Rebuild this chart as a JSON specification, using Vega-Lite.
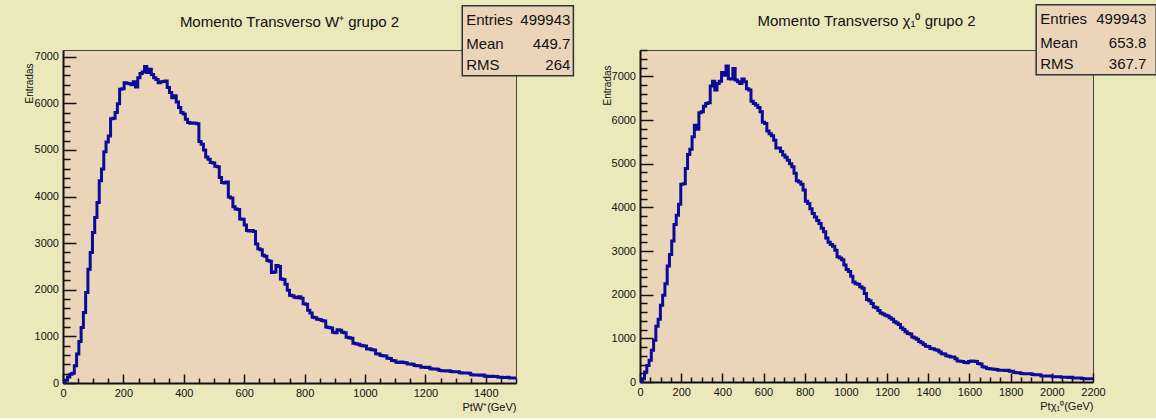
{
  "$schema": "https://vega.github.io/schema/vega-lite/v6.json",
  "background": "#ebe8bb",
  "padding": {"left": 23, "top": 3, "right": 5, "bottom": 5},
  "spacing": 124,
  "bounds": "flush",
  "config": {
    "font": "Liberation Sans, Arial, sans-serif",
    "view": {"fill": "#ebd5b8", "stroke": "#444444", "strokeWidth": 1},
    "axis": {"labelFontSize": 11, "labelColor": "#111111", "domainColor": "#111111", "domainWidth": 2, "tickColor": "#111111", "tickWidth": 1.5, "grid": false, "labelFlush": false, "labelOverlap": false, "titleFontWeight": "normal", "titleFontSize": 11, "titleColor": "#111111"},
    "title": {"fontSize": 15, "fontWeight": "normal", "color": "#111111", "anchor": "middle"}
  },
  "datasets": {
    "w": [
      {"pt":0,"n":10},{"pt":7.5,"n":60},{"pt":15,"n":130},{"pt":22.5,"n":190},{"pt":30,"n":210},{"pt":37.5,"n":370},{"pt":45,"n":620},{"pt":52.5,"n":890},{"pt":60,"n":1190},{"pt":67.5,"n":1510},
      {"pt":75,"n":1940},{"pt":82.5,"n":2440},{"pt":90,"n":2800},{"pt":97.5,"n":3230},{"pt":105,"n":3550},{"pt":112.5,"n":3870},{"pt":120,"n":4340},{"pt":127.5,"n":4590},{"pt":135,"n":4960},{"pt":142.5,"n":5170},
      {"pt":150,"n":5300},{"pt":157.5,"n":5670},{"pt":165,"n":5680},{"pt":172.5,"n":5800},{"pt":180,"n":5990},{"pt":187.5,"n":6300},{"pt":195,"n":6310},{"pt":202.5,"n":6440},{"pt":210,"n":6430},{"pt":217.5,"n":6420},
      {"pt":225,"n":6400},{"pt":232.5,"n":6460},{"pt":240,"n":6350},{"pt":247.5,"n":6550},{"pt":255,"n":6640},{"pt":262.5,"n":6670},{"pt":270,"n":6790},{"pt":277.5,"n":6660},{"pt":285,"n":6730},{"pt":292.5,"n":6620},
      {"pt":300,"n":6550},{"pt":307.5,"n":6510},{"pt":315,"n":6440},{"pt":322.5,"n":6460},{"pt":330,"n":6470},{"pt":337.5,"n":6480},{"pt":345,"n":6340},{"pt":352.5,"n":6230},{"pt":360,"n":6120},{"pt":367.5,"n":6160},
      {"pt":375,"n":6030},{"pt":382.5,"n":5910},{"pt":390,"n":5800},{"pt":397.5,"n":5770},{"pt":405,"n":5660},{"pt":412.5,"n":5590},{"pt":420,"n":5570},{"pt":427.5,"n":5575},{"pt":435,"n":5570},{"pt":442.5,"n":5560},
      {"pt":450,"n":5180},{"pt":457.5,"n":5120},{"pt":465,"n":5000},{"pt":472.5,"n":4850},{"pt":480,"n":4800},{"pt":487.5,"n":4730},{"pt":495,"n":4720},{"pt":502.5,"n":4650},{"pt":510,"n":4640},{"pt":517.5,"n":4410},
      {"pt":525,"n":4300},{"pt":532.5,"n":4290},{"pt":540,"n":4310},{"pt":547.5,"n":3990},{"pt":555,"n":3970},{"pt":562.5,"n":3780},{"pt":570,"n":3730},{"pt":577.5,"n":3720},{"pt":585,"n":3520},{"pt":592.5,"n":3510},
      {"pt":600,"n":3390},{"pt":607.5,"n":3270},{"pt":615,"n":3260},{"pt":622.5,"n":3270},{"pt":630,"n":3250},{"pt":637.5,"n":2980},{"pt":645,"n":2880},{"pt":652.5,"n":2860},{"pt":660,"n":2740},{"pt":667.5,"n":2720},
      {"pt":675,"n":2630},{"pt":682.5,"n":2610},{"pt":690,"n":2370},{"pt":697.5,"n":2380},{"pt":705,"n":2520},{"pt":712.5,"n":2500},{"pt":720,"n":2230},{"pt":727.5,"n":2220},{"pt":735,"n":2120},{"pt":742.5,"n":1990},
      {"pt":750,"n":1880},{"pt":757.5,"n":1870},{"pt":765,"n":1840},{"pt":772.5,"n":1830},{"pt":780,"n":1850},{"pt":787.5,"n":1820},{"pt":795,"n":1700},{"pt":802.5,"n":1690},{"pt":810,"n":1560},{"pt":817.5,"n":1500},
      {"pt":825,"n":1410},{"pt":832.5,"n":1400},{"pt":840,"n":1370},{"pt":847.5,"n":1360},{"pt":855,"n":1340},{"pt":862.5,"n":1330},{"pt":870,"n":1200},{"pt":877.5,"n":1190},{"pt":885,"n":1180},{"pt":892.5,"n":1090},
      {"pt":900,"n":1080},{"pt":907.5,"n":1140},{"pt":915,"n":1130},{"pt":922.5,"n":1090},{"pt":930,"n":1080},{"pt":937.5,"n":980},{"pt":945,"n":970},{"pt":952.5,"n":960},{"pt":960,"n":850},{"pt":967.5,"n":840},
      {"pt":975,"n":830},{"pt":982.5,"n":810},{"pt":990,"n":800},{"pt":997.5,"n":795},{"pt":1005,"n":730},{"pt":1012.5,"n":735},{"pt":1020,"n":715},{"pt":1027.5,"n":710},{"pt":1035,"n":625},{"pt":1042.5,"n":620},
      {"pt":1050,"n":590},{"pt":1057.5,"n":585},{"pt":1065,"n":580},{"pt":1072.5,"n":530},{"pt":1080,"n":525},{"pt":1087.5,"n":480},{"pt":1095,"n":478},{"pt":1102.5,"n":445},{"pt":1110,"n":440},{"pt":1117.5,"n":450},
      {"pt":1125,"n":440},{"pt":1132.5,"n":435},{"pt":1140,"n":410},{"pt":1147.5,"n":405},{"pt":1155,"n":400},{"pt":1162.5,"n":375},{"pt":1170,"n":370},{"pt":1177.5,"n":372},{"pt":1185,"n":340},{"pt":1192.5,"n":336},
      {"pt":1200,"n":330},{"pt":1207.5,"n":338},{"pt":1215,"n":305},{"pt":1222.5,"n":300},{"pt":1230,"n":298},{"pt":1237.5,"n":295},{"pt":1245,"n":268},{"pt":1252.5,"n":265},{"pt":1260,"n":262},{"pt":1267.5,"n":260},
      {"pt":1275,"n":262},{"pt":1282.5,"n":245},{"pt":1290,"n":243},{"pt":1297.5,"n":240},{"pt":1305,"n":244},{"pt":1312.5,"n":218},{"pt":1320,"n":215},{"pt":1327.5,"n":212},{"pt":1335,"n":214},{"pt":1342.5,"n":210},
      {"pt":1350,"n":175},{"pt":1357.5,"n":172},{"pt":1365,"n":170},{"pt":1372.5,"n":174},{"pt":1380,"n":168},{"pt":1387.5,"n":170},{"pt":1395,"n":145},{"pt":1402.5,"n":143},{"pt":1410,"n":140},{"pt":1417.5,"n":145},
      {"pt":1425,"n":142},{"pt":1432.5,"n":140},{"pt":1440,"n":125},{"pt":1447.5,"n":122},{"pt":1455,"n":120},{"pt":1462.5,"n":118},{"pt":1470,"n":121},{"pt":1477.5,"n":108},{"pt":1485,"n":105},{"pt":1492.5,"n":107},
      {"pt":1500,"n":107}
    ],
    "chi": [
      {"pt":0,"n":20},{"pt":11,"n":76},{"pt":22,"n":230},{"pt":33,"n":380},{"pt":44,"n":500},{"pt":55,"n":730},{"pt":66,"n":955},{"pt":77,"n":1280},{"pt":88,"n":1440},{"pt":99,"n":1760},
      {"pt":110,"n":1990},{"pt":121,"n":2250},{"pt":132,"n":2660},{"pt":143,"n":2920},{"pt":154,"n":3230},{"pt":165,"n":3610},{"pt":176,"n":3820},{"pt":187,"n":4070},{"pt":198,"n":4530},{"pt":209,"n":4540},
      {"pt":220,"n":4890},{"pt":231,"n":5210},{"pt":242,"n":5330},{"pt":253,"n":5620},{"pt":264,"n":5880},{"pt":275,"n":5790},{"pt":286,"n":6170},{"pt":297,"n":6190},{"pt":308,"n":6320},{"pt":319,"n":6380},
      {"pt":330,"n":6400},{"pt":341,"n":6780},{"pt":352,"n":6890},{"pt":363,"n":6690},{"pt":374,"n":6840},{"pt":385,"n":6890},{"pt":396,"n":7090},{"pt":407,"n":7030},{"pt":418,"n":7240},{"pt":429,"n":6950},
      {"pt":440,"n":6940},{"pt":451,"n":7180},{"pt":462,"n":6920},{"pt":473,"n":6880},{"pt":484,"n":6840},{"pt":495,"n":6940},{"pt":506,"n":6880},{"pt":517,"n":6720},{"pt":528,"n":6690},{"pt":539,"n":6430},
      {"pt":550,"n":6380},{"pt":561,"n":6340},{"pt":572,"n":6290},{"pt":583,"n":6190},{"pt":594,"n":5950},{"pt":605,"n":5920},{"pt":616,"n":5750},{"pt":627,"n":5690},{"pt":638,"n":5640},{"pt":649,"n":5540},
      {"pt":660,"n":5360},{"pt":671,"n":5360},{"pt":682,"n":5280},{"pt":693,"n":5200},{"pt":704,"n":5150},{"pt":715,"n":5080},{"pt":726,"n":5000},{"pt":737,"n":4930},{"pt":748,"n":4780},{"pt":759,"n":4610},
      {"pt":770,"n":4580},{"pt":781,"n":4530},{"pt":792,"n":4400},{"pt":803,"n":4140},{"pt":814,"n":4090},{"pt":825,"n":3970},{"pt":836,"n":3860},{"pt":847,"n":3780},{"pt":858,"n":3700},{"pt":869,"n":3630},
      {"pt":880,"n":3520},{"pt":891,"n":3440},{"pt":902,"n":3300},{"pt":913,"n":3200},{"pt":924,"n":3150},{"pt":935,"n":3110},{"pt":946,"n":3020},{"pt":957,"n":2870},{"pt":968,"n":2840},{"pt":979,"n":2800},
      {"pt":990,"n":2680},{"pt":1001,"n":2580},{"pt":1012,"n":2530},{"pt":1023,"n":2420},{"pt":1034,"n":2290},{"pt":1045,"n":2250},{"pt":1056,"n":2240},{"pt":1067,"n":2180},{"pt":1078,"n":2150},{"pt":1089,"n":2030},
      {"pt":1100,"n":1890},{"pt":1111,"n":1860},{"pt":1122,"n":1800},{"pt":1133,"n":1720},{"pt":1144,"n":1700},{"pt":1155,"n":1640},{"pt":1166,"n":1580},{"pt":1177,"n":1560},{"pt":1188,"n":1530},{"pt":1199,"n":1510},
      {"pt":1210,"n":1470},{"pt":1221,"n":1440},{"pt":1232,"n":1380},{"pt":1243,"n":1350},{"pt":1254,"n":1315},{"pt":1265,"n":1240},{"pt":1276,"n":1200},{"pt":1287,"n":1150},{"pt":1298,"n":1110},{"pt":1309,"n":1100},
      {"pt":1320,"n":1030},{"pt":1331,"n":1010},{"pt":1342,"n":980},{"pt":1353,"n":930},{"pt":1364,"n":900},{"pt":1375,"n":860},{"pt":1386,"n":820},{"pt":1397,"n":815},{"pt":1408,"n":765},{"pt":1419,"n":760},
      {"pt":1430,"n":740},{"pt":1441,"n":725},{"pt":1452,"n":690},{"pt":1463,"n":650},{"pt":1474,"n":640},{"pt":1485,"n":600},{"pt":1496,"n":590},{"pt":1507,"n":575},{"pt":1518,"n":570},{"pt":1529,"n":535},
      {"pt":1540,"n":480},{"pt":1551,"n":475},{"pt":1562,"n":470},{"pt":1573,"n":445},{"pt":1584,"n":440},{"pt":1595,"n":470},{"pt":1606,"n":480},{"pt":1617,"n":475},{"pt":1628,"n":470},{"pt":1639,"n":425},
      {"pt":1650,"n":415},{"pt":1661,"n":350},{"pt":1672,"n":340},{"pt":1683,"n":310},{"pt":1694,"n":305},{"pt":1705,"n":300},{"pt":1716,"n":290},{"pt":1727,"n":288},{"pt":1738,"n":270},{"pt":1749,"n":268},
      {"pt":1760,"n":268},{"pt":1771,"n":265},{"pt":1782,"n":270},{"pt":1793,"n":245},{"pt":1804,"n":244},{"pt":1815,"n":216},{"pt":1826,"n":214},{"pt":1837,"n":212},{"pt":1848,"n":192},{"pt":1859,"n":190},
      {"pt":1870,"n":191},{"pt":1881,"n":189},{"pt":1892,"n":190},{"pt":1903,"n":170},{"pt":1914,"n":168},{"pt":1925,"n":166},{"pt":1936,"n":168},{"pt":1947,"n":140},{"pt":1958,"n":138},{"pt":1969,"n":137},
      {"pt":1980,"n":139},{"pt":1991,"n":136},{"pt":2002,"n":123},{"pt":2013,"n":121},{"pt":2024,"n":122},{"pt":2035,"n":120},{"pt":2046,"n":108},{"pt":2057,"n":107},{"pt":2068,"n":106},{"pt":2079,"n":105},
      {"pt":2090,"n":107},{"pt":2101,"n":93},{"pt":2112,"n":92},{"pt":2123,"n":91},{"pt":2134,"n":92},{"pt":2145,"n":78},{"pt":2156,"n":76},{"pt":2167,"n":77},{"pt":2178,"n":75},{"pt":2189,"n":76},
      {"pt":2200,"n":76}
    ],
    "statsW": [
      {"stat": "Entries", "value": "499943"},
      {"stat": "Mean", "value": "449.7"},
      {"stat": "RMS", "value": "264"}
    ],
    "statsChi": [
      {"stat": "Entries", "value": "499943"},
      {"stat": "Mean", "value": "653.8"},
      {"stat": "RMS", "value": "367.7"}
    ]
  },
  "hconcat": [
    {
      "width": 453,
      "height": 333,
      "title": {"text": "Momento Transverso W⁺ grupo 2", "offset": -25},
      "resolve": {"axis": {"x": "independent", "y": "independent"}},
      "layer": [
        {
          "data": {"name": "w"},
          "mark": {"type": "line", "interpolate": "step-after", "color": "#0b0b99", "strokeWidth": 3},
          "encoding": {
            "x": {"field": "pt", "type": "quantitative",
              "scale": {"domain": [0, 1500], "nice": false, "zero": true},
              "axis": {
                "orient": "bottom",
                "values": [0,200,400,600,800,1000,1200,1400],
                "format": "d", "labelOverlap": false, "labelFlush": false,
                "tickSize": -9, "labelPadding": 13,
                "title": "PtW⁺(GeV)", "titleX": 453, "titleY": 24, "titleAlign": "right", "titleBaseline": "middle"
              }},
            "y": {"field": "n", "type": "quantitative",
              "scale": {"domain": [0, 7143], "nice": false, "zero": true},
              "axis": {
                "orient": "left",
                "values": [0,1000,2000,3000,4000,5000,6000,7000],
                "format": "d", "labelOverlap": false, "labelFlush": false,
                "tickSize": -13, "labelPadding": 17.5,
                "title": "Entradas", "titleFontSize": 10, "titleX": -34, "titleY": 13, "titleAngle": 270, "titleAlign": "right", "titleBaseline": "middle"
              }}
          }
        },
        {
          "data": {"name": "w"},
          "mark": {"type": "line", "strokeOpacity": 0},
          "encoding": {
            "x": {"field": "pt", "type": "quantitative",
              "axis": {
                "orient": "bottom",
                "values": [50,100,150,250,300,350,450,500,550,650,700,750,850,900,950,1050,1100,1150,1250,1300,1350,1450,1500],
                "labels": false, "domain": false, "tickSize": -5, "title": null
              }},
            "y": {"field": "n", "type": "quantitative",
              "axis": {
                "orient": "left",
                "values": [200,400,600,800,1200,1400,1600,1800,2200,2400,2600,2800,3200,3400,3600,3800,4200,4400,4600,4800,5200,5400,5600,5800,6200,6400,6600,6800],
                "labels": false, "domain": false, "tickSize": -7, "title": null
              }}
          }
        },
        {
          "data": {"values": [{}]},
          "mark": {"type": "rect", "fill": "#ebd5b8", "stroke": "#333333", "strokeWidth": 1.5},
          "encoding": {
            "x": {"datum": 1322, "axis": null}, "x2": {"datum": 1690},
            "y": {"datum": 8092, "axis": null}, "y2": {"datum": 6592}
          }
        },
        {
          "data": {"name": "statsW"},
          "transform": [{"filter": "datum.stat === 'Entries'"}],
          "layer": [
            {"mark": {"type": "text", "align": "left", "baseline": "middle", "fontSize": 15, "color": "#111111"},
             "encoding": {"x": {"datum": 1335, "axis": null}, "y": {"datum": 7792, "axis": null}, "text": {"field": "stat"}}},
            {"mark": {"type": "text", "align": "right", "baseline": "middle", "fontSize": 15, "color": "#111111"},
             "encoding": {"x": {"datum": 1680, "axis": null}, "y": {"datum": 7792, "axis": null}, "text": {"field": "value"}}}
          ]
        },
        {
          "data": {"name": "statsW"},
          "transform": [{"filter": "datum.stat === 'Mean'"}],
          "layer": [
            {"mark": {"type": "text", "align": "left", "baseline": "middle", "fontSize": 15, "color": "#111111"},
             "encoding": {"x": {"datum": 1335, "axis": null}, "y": {"datum": 7278, "axis": null}, "text": {"field": "stat"}}},
            {"mark": {"type": "text", "align": "right", "baseline": "middle", "fontSize": 15, "color": "#111111"},
             "encoding": {"x": {"datum": 1680, "axis": null}, "y": {"datum": 7278, "axis": null}, "text": {"field": "value"}}}
          ]
        },
        {
          "data": {"name": "statsW"},
          "transform": [{"filter": "datum.stat === 'RMS'"}],
          "layer": [
            {"mark": {"type": "text", "align": "left", "baseline": "middle", "fontSize": 15, "color": "#111111"},
             "encoding": {"x": {"datum": 1335, "axis": null}, "y": {"datum": 6828, "axis": null}, "text": {"field": "stat"}}},
            {"mark": {"type": "text", "align": "right", "baseline": "middle", "fontSize": 15, "color": "#111111"},
             "encoding": {"x": {"datum": 1680, "axis": null}, "y": {"datum": 6828, "axis": null}, "text": {"field": "value"}}}
          ]
        }
      ]
    },
    {
      "width": 453,
      "height": 332,
      "title": {"text": "Momento Transverso χ₁⁰ grupo 2", "offset": -25},
      "resolve": {"axis": {"x": "independent", "y": "independent"}},
      "layer": [
        {
          "data": {"name": "chi"},
          "mark": {"type": "line", "interpolate": "step-after", "color": "#0b0b99", "strokeWidth": 3},
          "encoding": {
            "x": {"field": "pt", "type": "quantitative",
              "scale": {"domain": [0, 2200], "nice": false, "zero": true},
              "axis": {
                "orient": "bottom",
                "values": [0,200,400,600,800,1000,1200,1400,1600,1800,2000,2200],
                "format": "d", "labelOverlap": false, "labelFlush": false,
                "tickSize": -9, "labelPadding": 13,
                "title": "Ptχ₁⁰(GeV)", "titleX": 453, "titleY": 24, "titleAlign": "right", "titleBaseline": "middle"
              }},
            "y": {"field": "n", "type": "quantitative",
              "scale": {"domain": [0, 7606], "nice": false, "zero": true},
              "axis": {
                "orient": "left",
                "values": [0,1000,2000,3000,4000,5000,6000,7000],
                "format": "d", "labelOverlap": false, "labelFlush": false,
                "tickSize": -13, "labelPadding": 17.5,
                "title": "Entradas", "titleFontSize": 10, "titleX": -33, "titleY": 15, "titleAngle": 270, "titleAlign": "right", "titleBaseline": "middle"
              }}
          }
        },
        {
          "data": {"name": "chi"},
          "mark": {"type": "line", "strokeOpacity": 0},
          "encoding": {
            "x": {"field": "pt", "type": "quantitative",
              "axis": {
                "orient": "bottom",
                "values": [50,100,150,250,300,350,450,500,550,650,700,750,850,900,950,1050,1100,1150,1250,1300,1350,1450,1500,1550,1650,1700,1750,1850,1900,1950,2050,2100,2150],
                "labels": false, "domain": false, "tickSize": -5, "title": null
              }},
            "y": {"field": "n", "type": "quantitative",
              "axis": {
                "orient": "left",
                "values": [200,400,600,800,1200,1400,1600,1800,2200,2400,2600,2800,3200,3400,3600,3800,4200,4400,4600,4800,5200,5400,5600,5800,6200,6400,6600,6800,7200,7400,7600],
                "labels": false, "domain": false, "tickSize": -7, "title": null
              }}
          }
        },
        {
          "data": {"values": [{}]},
          "mark": {"type": "rect", "fill": "#ebd5b8", "stroke": "#333333", "strokeWidth": 1.5},
          "encoding": {
            "x": {"datum": 1924, "axis": null}, "x2": {"datum": 2507},
            "y": {"datum": 8645, "axis": null}, "y2": {"datum": 7040}
          }
        },
        {
          "data": {"name": "statsChi"},
          "transform": [{"filter": "datum.stat === 'Entries'"}],
          "layer": [
            {"mark": {"type": "text", "align": "left", "baseline": "middle", "fontSize": 15, "color": "#111111"},
             "encoding": {"x": {"datum": 1944, "axis": null}, "y": {"datum": 8324, "axis": null}, "text": {"field": "stat"}}},
            {"mark": {"type": "text", "align": "right", "baseline": "middle", "fontSize": 15, "color": "#111111"},
             "encoding": {"x": {"datum": 2459, "axis": null}, "y": {"datum": 8324, "axis": null}, "text": {"field": "value"}}}
          ]
        },
        {
          "data": {"name": "statsChi"},
          "transform": [{"filter": "datum.stat === 'Mean'"}],
          "layer": [
            {"mark": {"type": "text", "align": "left", "baseline": "middle", "fontSize": 15, "color": "#111111"},
             "encoding": {"x": {"datum": 1944, "axis": null}, "y": {"datum": 7773, "axis": null}, "text": {"field": "stat"}}},
            {"mark": {"type": "text", "align": "right", "baseline": "middle", "fontSize": 15, "color": "#111111"},
             "encoding": {"x": {"datum": 2459, "axis": null}, "y": {"datum": 7773, "axis": null}, "text": {"field": "value"}}}
          ]
        },
        {
          "data": {"name": "statsChi"},
          "transform": [{"filter": "datum.stat === 'RMS'"}],
          "layer": [
            {"mark": {"type": "text", "align": "left", "baseline": "middle", "fontSize": 15, "color": "#111111"},
             "encoding": {"x": {"datum": 1944, "axis": null}, "y": {"datum": 7292, "axis": null}, "text": {"field": "stat"}}},
            {"mark": {"type": "text", "align": "right", "baseline": "middle", "fontSize": 15, "color": "#111111"},
             "encoding": {"x": {"datum": 2459, "axis": null}, "y": {"datum": 7292, "axis": null}, "text": {"field": "value"}}}
          ]
        }
      ]
    }
  ]
}
